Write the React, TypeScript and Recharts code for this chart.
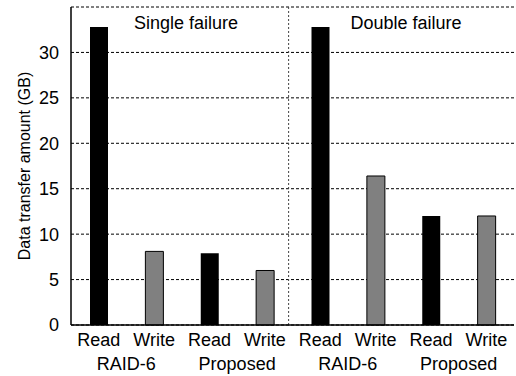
import React from 'react'
import { BarChart, Bar, XAxis, YAxis, CartesianGrid, Cell, ReferenceLine, Customized } from 'recharts'

const categories = ['Read', 'Write', 'Read', 'Write', 'Read', 'Write', 'Read', 'Write']
const groups = ['RAID-6', 'RAID-6', 'Proposed', 'Proposed', 'RAID-6', 'RAID-6', 'Proposed', 'Proposed']
const values = [32.8, 8.1, 7.9, 6.0, 32.8, 16.4, 12.0, 12.0]
const yTicks = [0, 5, 10, 15, 20, 25, 30]
const panels = ['Single failure', 'Double failure']

const data = categories.map((c, i) => ({ id: i, kind: c, group: groups[i], value: values[i] }))

const FONT = '"Liberation Sans", Arial, sans-serif'

const XTick = ({ x, y, payload, index, width }: any) => {
  const half = width / data.length / 2
  const item = data[payload.value]
  return (
    <g>
      <text x={x} y={y + 13} textAnchor="middle" fontSize={18} fontFamily={FONT} fill="#000">
        {item.kind}
      </text>
      {index % 2 === 0 && (
        <text x={x + half} y={y + 37} textAnchor="middle" fontSize={18} fontFamily={FONT} fill="#000">
          {item.group}
        </text>
      )}
    </g>
  )
}

const PanelTitles = () => (
  <g>
    <text x={186} y={29} textAnchor="middle" fontSize={18} fontFamily={FONT} fill="#000">{panels[0]}</text>
    <text x={406} y={29} textAnchor="middle" fontSize={18} fontFamily={FONT} fill="#000">{panels[1]}</text>
  </g>
)

export default function App() {
  return (
    <div style={{ position: 'absolute', left: 0, top: 0, background: '#fff' }}>
      <BarChart width={516} height={376} data={data} margin={{ top: 7, right: 2, bottom: 0, left: 0 }} barSize={18}>
        <CartesianGrid vertical={false} stroke="#000" strokeDasharray="3 2" strokeWidth={1} />
        <XAxis
          dataKey="id"
          type="category"
          tick={<XTick />}
          tickLine={false}
          axisLine={{ stroke: '#000', strokeWidth: 1.5 }}
          height={51}
          interval={0}
        />
        <XAxis
          xAxisId="num"
          dataKey="id"
          type="number"
          domain={[-0.5, 7.5]}
          allowDataOverflow
          hide
        />
        <XAxis
          xAxisId="top"
          orientation="top"
          tick={false}
          tickLine={false}
          height={0}
          axisLine={{ stroke: '#000', strokeWidth: 1.5 }}
        />
        <YAxis
          domain={[0, 35]}
          ticks={yTicks}
          width={71}
          tickLine={false}
          axisLine={{ stroke: '#000', strokeWidth: 1.5 }}
          tick={{ fontSize: 18, fill: '#000', fontFamily: FONT }}
          tickMargin={6}
          label={{
            value: 'Data transfer amount (GB)',
            angle: -90,
            position: 'insideLeft',
            offset: 24,
            style: { fontSize: 16, fill: '#000', fontFamily: FONT, textAnchor: 'middle' },
          }}
        />
        <YAxis
          yAxisId="right"
          orientation="right"
          domain={[0, 35]}
          width={0}
          tick={false}
          tickLine={false}
          axisLine={{ stroke: '#000', strokeWidth: 1.5 }}
        />
        <Bar dataKey="value" isAnimationActive={false}>
          {data.map((d) => (
            <Cell
              key={d.id}
              fill={d.kind === 'Read' ? '#000' : '#808080'}
              stroke="#000"
              strokeWidth={d.kind === 'Read' ? 0 : 1}
            />
          ))}
        </Bar>
        <ReferenceLine
          xAxisId="num"
          x={3.43}
          stroke="#444"
          strokeDasharray="2 2"
          strokeWidth={1}
        />
        <Customized component={<PanelTitles />} />
      </BarChart>
    </div>
  )
}
